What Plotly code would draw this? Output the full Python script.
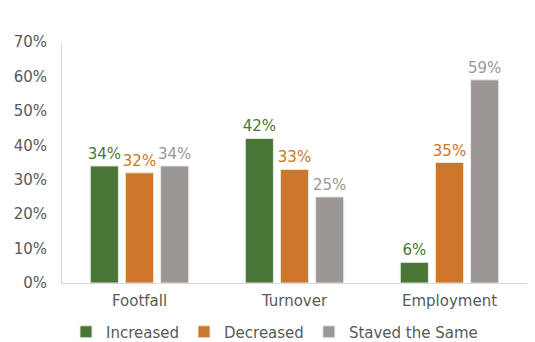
import plotly.graph_objects as go

categories = ["Footfall", "Turnover", "Employment"]
increased = [34, 42, 6]
decreased = [32, 33, 35]
stayed = [34, 25, 59]
series_names = ["Increased", "Decreased", "Staved the Same"]
colors = ["#4A7638", "#CD7529", "#9B9794"]

FONT = "DejaVu Sans, Verdana, sans-serif"

fig = go.Figure()
for name, vals, col in zip(series_names, [increased, decreased, stayed], colors):
    fig.add_trace(go.Bar(
        x=categories,
        y=[v / 100 for v in vals],
        name=name,
        marker=dict(color=col, line=dict(color="rgba(235,235,235,0.9)", width=1)),
        text=[f"{v}%" for v in vals],
        textposition="outside",
        constraintext="none",
        textfont=dict(color=col, size=15, family=FONT),
        cliponaxis=False,
    ))

fig.update_layout(
    width=535, height=342,
    margin=dict(l=62, r=8, t=42, b=59, autoexpand=False),
    paper_bgcolor="white", plot_bgcolor="white",
    barmode="group", bargap=0.32, bargroupgap=0.2,
    font=dict(family=FONT, size=15, color="#595959"),
    showlegend=True,
    legend=dict(orientation="h", xref="container", x=66 / 535, xanchor="left",
                yref="paper", y=-0.135, yanchor="top",
                font=dict(size=15, color="#595959"), tracegroupgap=0),
    xaxis=dict(showline=True, linecolor="#D9D9D9", linewidth=1, ticks="",
               ticklabelstandoff=4,
               tickfont=dict(size=15, color="#595959")),
    yaxis=dict(range=[0, 0.7], dtick=0.1, tickformat=".0%", showgrid=False,
               showline=True, linecolor="#D9D9D9", linewidth=1, ticks="",
               zeroline=False, ticklabelstandoff=11,
               tickfont=dict(size=15, color="#595959")),
)

fig.write_html("out.html")
